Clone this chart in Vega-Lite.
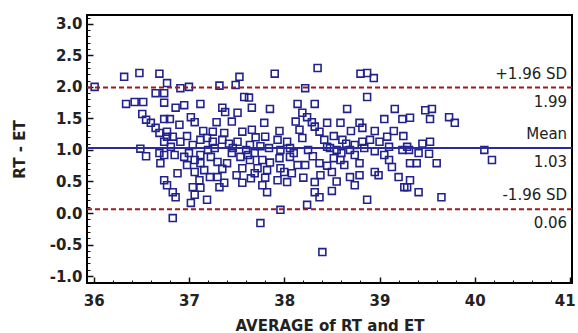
{
  "$schema": "https://vega.github.io/schema/vega-lite/v6.json",
  "width": 485,
  "height": 268,
  "autosize": {"type": "none"},
  "padding": {"left": 87, "top": 15, "right": 6, "bottom": 50},
  "background": "white",
  "config": {"view": {"stroke": "black", "strokeWidth": 2}, "font": "DejaVu Sans"},
  "datasets": {
    "pts": [
      {"x":36.01,"y":2.0},{"x":36.32,"y":2.16},{"x":36.48,"y":2.22},{"x":36.69,"y":2.21},{"x":36.65,"y":1.9},{"x":36.74,"y":1.9},{"x":36.34,"y":1.73},{"x":36.43,"y":1.76},{"x":36.52,"y":1.76},{"x":36.74,"y":1.75},{"x":36.51,"y":1.57},{"x":36.55,"y":1.48},{"x":36.6,"y":1.43},{"x":36.65,"y":1.35},{"x":36.69,"y":1.27},{"x":36.74,"y":1.49},{"x":36.77,"y":1.21},{"x":36.74,"y":1.13},{"x":36.49,"y":1.02},{"x":36.55,"y":0.9},{"x":36.69,"y":0.95},{"x":36.74,"y":0.92},{"x":36.7,"y":0.79},{"x":36.74,"y":0.52},{"x":36.77,"y":0.44},
      {"x":37.53,"y":2.16},{"x":37.49,"y":2.03},{"x":36.91,"y":1.98},{"x":37.0,"y":2.0},{"x":37.32,"y":2.02},{"x":37.58,"y":1.84},{"x":36.77,"y":2.06},{"x":37.12,"y":1.73},{"x":36.95,"y":1.71},{"x":36.86,"y":1.67},{"x":37.35,"y":1.67},{"x":37.38,"y":1.6},{"x":37.51,"y":1.59},{"x":36.8,"y":1.49},{"x":37.02,"y":1.52},{"x":37.06,"y":1.44},{"x":36.9,"y":1.4},{"x":37.29,"y":1.44},{"x":37.25,"y":1.29},{"x":37.37,"y":1.27},{"x":37.56,"y":1.29},{"x":36.77,"y":1.29},{"x":36.83,"y":1.21},{"x":36.98,"y":1.22},{"x":37.12,"y":1.16},{"x":37.19,"y":1.19},{"x":37.25,"y":1.13},{"x":37.35,"y":1.16},{"x":36.91,"y":1.13},{"x":37.51,"y":1.13},{"x":36.81,"y":1.05},{"x":37.04,"y":1.08},{"x":37.27,"y":1.03},{"x":37.46,"y":1.03},{"x":36.85,"y":0.92},{"x":36.95,"y":0.89},{"x":37.12,"y":0.92},{"x":37.23,"y":0.89},{"x":37.54,"y":0.89},{"x":37.06,"y":0.84},{"x":36.98,"y":0.76},{"x":37.12,"y":0.79},{"x":37.3,"y":0.81},{"x":37.4,"y":0.79},{"x":36.88,"y":0.63},{"x":37.06,"y":0.65},{"x":37.16,"y":0.68},{"x":37.22,"y":0.57},{"x":37.3,"y":0.57},{"x":37.56,"y":0.71},{"x":37.56,"y":0.48},{"x":37.11,"y":0.52},{"x":37.32,"y":0.41},{"x":37.37,"y":0.48},{"x":37.04,"y":0.41},{"x":37.12,"y":0.4},{"x":36.83,"y":0.33},{"x":36.86,"y":0.25},{"x":37.06,"y":0.29},{"x":37.19,"y":0.21},{"x":37.02,"y":0.16},{"x":36.83,"y":-0.08},
      {"x":37.9,"y":2.21},{"x":38.35,"y":2.3},{"x":38.22,"y":1.98},{"x":37.63,"y":1.83},{"x":37.66,"y":1.67},{"x":37.85,"y":1.65},{"x":38.14,"y":1.73},{"x":38.32,"y":1.73},{"x":38.19,"y":1.59},{"x":38.24,"y":1.52},{"x":38.29,"y":1.44},{"x":38.32,"y":1.37},{"x":38.37,"y":1.29},{"x":38.42,"y":1.16},{"x":38.45,"y":1.05},{"x":37.79,"y":1.43},{"x":37.66,"y":1.32},{"x":38.16,"y":1.32},{"x":38.19,"y":1.19},{"x":37.8,"y":1.21},{"x":37.93,"y":1.16},{"x":38.03,"y":1.13},{"x":37.64,"y":1.08},{"x":37.75,"y":1.06},{"x":37.84,"y":1.03},{"x":37.96,"y":1.0},{"x":38.06,"y":1.03},{"x":37.69,"y":0.95},{"x":37.95,"y":0.87},{"x":38.06,"y":0.89},{"x":37.64,"y":0.84},{"x":37.77,"y":0.84},{"x":37.96,"y":0.71},{"x":38.14,"y":0.76},{"x":38.22,"y":0.76},{"x":38.37,"y":0.79},{"x":37.72,"y":0.71},{"x":37.82,"y":0.68},{"x":37.69,"y":0.63},{"x":38.08,"y":0.63},{"x":38.2,"y":0.56},{"x":38.38,"y":0.6},{"x":37.8,"y":0.56},{"x":37.93,"y":0.52},{"x":38.03,"y":0.49},{"x":38.32,"y":0.49},{"x":37.77,"y":0.44},{"x":37.82,"y":0.33},{"x":38.32,"y":0.33},{"x":38.37,"y":0.25},{"x":38.24,"y":0.13},{"x":37.96,"y":0.05},{"x":37.75,"y":-0.16},{"x":38.4,"y":-0.62},
      {"x":38.8,"y":2.21},{"x":38.87,"y":2.22},{"x":38.94,"y":2.14},{"x":38.87,"y":1.84},{"x":38.66,"y":1.65},{"x":39.16,"y":1.65},{"x":39.05,"y":1.49},{"x":39.24,"y":1.49},{"x":38.59,"y":1.43},{"x":38.79,"y":1.43},{"x":38.45,"y":1.43},{"x":38.82,"y":1.35},{"x":39.15,"y":1.3},{"x":39.08,"y":1.21},{"x":38.61,"y":1.16},{"x":38.82,"y":1.13},{"x":38.9,"y":1.16},{"x":39.0,"y":1.13},{"x":38.52,"y":1.22},{"x":38.74,"y":1.08},{"x":38.48,"y":1.03},{"x":38.69,"y":1.0},{"x":38.84,"y":1.03},{"x":39.24,"y":1.0},{"x":38.52,"y":0.87},{"x":38.59,"y":0.84},{"x":38.74,"y":0.92},{"x":38.79,"y":0.79},{"x":39.05,"y":0.92},{"x":39.1,"y":0.84},{"x":39.13,"y":0.73},{"x":38.63,"y":0.76},{"x":38.95,"y":0.65},{"x":38.99,"y":0.6},{"x":38.69,"y":0.57},{"x":38.79,"y":0.6},{"x":39.2,"y":0.57},{"x":38.74,"y":0.44},{"x":39.26,"y":0.41},{"x":38.5,"y":0.35},{"x":38.87,"y":0.21},
      {"x":39.32,"y":1.51},{"x":39.48,"y":1.63},{"x":39.55,"y":1.65},{"x":39.53,"y":1.49},{"x":39.73,"y":1.52},{"x":39.79,"y":1.43},{"x":40.1,"y":1.0},{"x":40.18,"y":0.84},{"x":39.29,"y":1.05},{"x":39.45,"y":1.1},{"x":39.53,"y":1.13},{"x":39.41,"y":0.95},{"x":39.52,"y":0.94},{"x":39.32,"y":0.79},{"x":39.39,"y":0.79},{"x":39.6,"y":0.79},{"x":39.31,"y":1.0},{"x":39.32,"y":0.52},{"x":39.41,"y":0.33},{"x":39.29,"y":0.41},{"x":39.65,"y":0.25},
      {"x":37.6,"y":1.0},{"x":37.62,"y":0.92},{"x":37.7,"y":1.2},{"x":37.45,"y":0.95},{"x":37.42,"y":1.1},{"x":37.2,"y":1.0},{"x":37.0,"y":0.95},{"x":38.1,"y":0.95},{"x":38.25,"y":1.0},{"x":38.3,"y":0.9},{"x":38.55,"y":1.0},{"x":38.6,"y":0.95},{"x":38.65,"y":1.1},{"x":38.95,"y":0.98},{"x":39.1,"y":1.05},{"x":37.85,"y":0.8},{"x":38.0,"y":0.65},{"x":37.5,"y":0.6},{"x":38.5,"y":0.65},{"x":38.45,"y":0.75},{"x":37.35,"y":0.7},{"x":37.15,"y":1.3},{"x":38.12,"y":1.45},{"x":37.95,"y":1.3},{"x":38.7,"y":1.3},{"x":38.95,"y":1.3},{"x":39.25,"y":1.22},{"x":37.45,"y":1.45},{"x":37.65,"y":0.55},{"x":38.55,"y":0.5}
    ],
    "lines": [
      {"xr": 41, "y": 1.99, "above": "+1.96 SD", "below": "1.99", "kind": "sd"},
      {"xr": 41, "y": 1.03, "above": "Mean", "below": "1.03", "kind": "mean"},
      {"xr": 41, "y": 0.06, "above": "-1.96 SD", "below": "0.06", "kind": "sd"}
    ]
  },
  "layer": [
    {
      "data": {"name": "pts"},
      "mark": {"type": "point", "shape": "square", "filled": false, "color": "#22228c", "size": 48, "strokeWidth": 1.6, "opacity": 1},
      "encoding": {
        "x": {"field": "x", "type": "quantitative",
          "scale": {"domain": [35.93, 41.02], "nice": false, "zero": false},
          "axis": {"orient": "bottom", "title": "AVERAGE of RT and ET", "ticks": false, "domain": false, "grid": false,
            "values": [36, 37, 38, 39, 40, 41], "format": "d", "labelFlush": 3, "labelFlushOffset": 5, "labelOverlap": false,
            "labelFontWeight": "bold", "labelFontSize": 15, "labelColor": "#222", "labelPadding": 10,
            "titleFontSize": 15, "titleFontWeight": "bold", "titleColor": "#222", "titlePadding": 10}},
        "y": {"field": "y", "type": "quantitative",
          "scale": {"domain": [-1.11, 3.14], "nice": false, "zero": false},
          "axis": {"orient": "left", "title": "RT - ET", "ticks": false, "domain": false, "grid": false,
            "values": [-1, -0.5, 0, 0.5, 1, 1.5, 2, 2.5, 3], "labelExpr": "replace(format(datum.value, '.1f'), '\u2212', '-')",
            "labelFlush": false, "labelOverlap": false,
            "labelFontWeight": "bold", "labelFontSize": 15, "labelColor": "#222", "labelPadding": 5,
            "titleFontSize": 15, "titleFontWeight": "bold", "titleColor": "#222", "titlePadding": 22}}
      }
    },
    {
      "data": {"name": "lines"},
      "transform": [{"filter": "datum.kind == 'sd'"}],
      "mark": {"type": "rule", "color": "#9b1b1b", "strokeWidth": 2, "strokeDash": [5, 3]},
      "encoding": {
        "y": {"field": "y", "type": "quantitative",
          "scale": {"domain": [-1.11, 3.14], "nice": false, "zero": false},
          "axis": {"orient": "left", "title": null, "labels": false, "domain": false, "grid": false,
            "values": [-1, -0.5, 0, 0.5, 1, 1.5, 2, 2.5, 3], "tickSize": -6, "tickWidth": 1.5, "tickColor": "#111"}}
      }
    },
    {
      "data": {"name": "lines"},
      "transform": [{"filter": "datum.kind == 'mean'"}],
      "mark": {"type": "rule", "color": "#2b2b9e", "strokeWidth": 2},
      "encoding": {
        "y": {"field": "y", "type": "quantitative",
          "scale": {"domain": [-1.11, 3.14], "nice": false, "zero": false},
          "axis": {"orient": "left", "title": null, "labels": false, "domain": false, "grid": false,
            "values": [-1.1,-1.0,-0.9,-0.8,-0.7,-0.6,-0.5,-0.4,-0.3,-0.2,-0.1,0,0.1,0.2,0.3,0.4,0.5,0.6,0.7,0.8,0.9,1.0,1.1,1.2,1.3,1.4,1.5,1.6,1.7,1.8,1.9,2.0,2.1,2.2,2.3,2.4,2.5,2.6,2.7,2.8,2.9,3.0,3.1],
            "tickSize": -3, "tickWidth": 1, "tickColor": "#111"}}
      }
    },
    {
      "data": {"name": "lines"},
      "mark": {"type": "text", "align": "right", "baseline": "middle", "dx": -3, "dy": -14, "fontSize": 15, "color": "#222"},
      "encoding": {
        "x": {"field": "xr", "type": "quantitative",
          "scale": {"domain": [35.93, 41.02], "nice": false, "zero": false},
          "axis": {"orient": "bottom", "title": null, "labels": false, "domain": false, "grid": false,
            "values": [36, 37, 38, 39, 40, 41], "tickSize": -6, "tickWidth": 1.5, "tickColor": "#111"}},
        "y": {"field": "y", "type": "quantitative", "scale": {"domain": [-1.11, 3.14], "nice": false, "zero": false}, "axis": null},
        "text": {"field": "above"}
      }
    },
    {
      "data": {"name": "lines"},
      "mark": {"type": "text", "align": "right", "baseline": "middle", "dx": -3, "dy": 14, "fontSize": 15, "color": "#222"},
      "encoding": {
        "x": {"field": "xr", "type": "quantitative",
          "scale": {"domain": [35.93, 41.02], "nice": false, "zero": false},
          "axis": {"orient": "bottom", "title": null, "labels": false, "domain": false, "grid": false,
            "values": [36.0,36.2,36.4,36.6,36.8,37.0,37.2,37.4,37.6,37.8,38.0,38.2,38.4,38.6,38.8,39.0,39.2,39.4,39.6,39.8,40.0,40.2,40.4,40.6,40.8,41.0],
            "tickSize": -3, "tickWidth": 1, "tickColor": "#111"}},
        "y": {"field": "y", "type": "quantitative", "scale": {"domain": [-1.11, 3.14], "nice": false, "zero": false}, "axis": null},
        "text": {"field": "below"}
      }
    }
  ],
  "resolve": {"axis": {"x": "independent", "y": "independent"}}
}
